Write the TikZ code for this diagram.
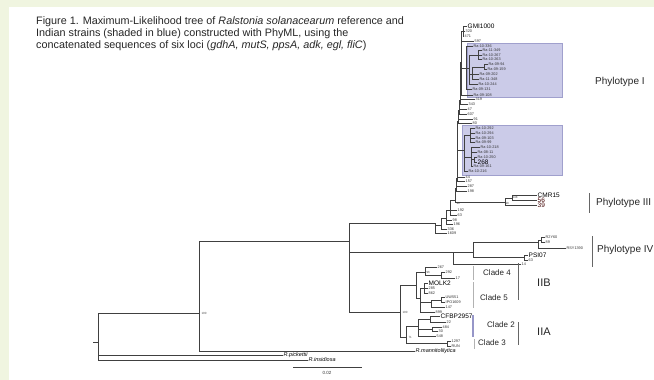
\documentclass[tikz,border=0pt]{standalone}
\usepackage{fontspec}
\setmainfont{Liberation Sans}
\definecolor{pagegreen}{RGB}{240,245,224}
\definecolor{shade}{RGB}{203,203,232}
\definecolor{shadeline}{RGB}{160,160,205}
\definecolor{cladeblue}{RGB}{150,150,200}
\begin{document}
\begin{tikzpicture}[x=1pt,y=-1pt,
  br/.style={draw=black!75,line width=0.7pt},
  tiplab/.style={font=\fontsize{3.8}{4}\selectfont,inner sep=0.5pt,anchor=west,text=black!80},
  biglab/.style={font=\fontsize{6.5}{7}\selectfont,inner sep=0.5pt,anchor=west},
  itlab/.style={font=\fontsize{5.5}{6}\selectfont\itshape,inner sep=0.5pt,anchor=west},
  bslab/.style={font=\fontsize{3}{3}\selectfont,inner sep=0.3pt,anchor=west,text=black!70},
  grplab/.style={font=\fontsize{10}{11}\selectfont,inner sep=0pt,anchor=west,text=black!85},
  cladelab/.style={font=\fontsize{8}{9}\selectfont,inner sep=0pt,anchor=west,text=black!85},
  bar/.style={draw=black!60,line width=0.8pt}]
\fill[pagegreen] (0,0) rectangle (654,380);
\fill[white] (9,7) rectangle (654,380);
\useasboundingbox (0,0) rectangle (654,380);

\node[anchor=north west,inner sep=0pt,align=left,font=\fontsize{10.8}{12.2}\selectfont,text=black!85] (caption) at (36,16)
  {Figure 1. Maximum-Likelihood tree of \textit{Ralstonia solanacearum} reference and\\
   Indian strains (shaded in blue) constructed with PhyML, using the\\
   concatenated sequences of six loci (\textit{gdhA, mutS, ppsA, adk, egl, fliC})};

\filldraw[fill=shade,draw=shadeline,line width=0.5pt] (467,43) rectangle (562,97);
\filldraw[fill=shade,draw=shadeline,line width=0.5pt] (462,125) rectangle (562,175);

\coordinate (stub) at (93,342);
\coordinate (root) at (98,342);
\coordinate (ing) at (199,313);
\coordinate (core) at (349,241);
\node[itlab] (pick) at (283,355) {R.pickettii};
\node[itlab] (insid) at (308,360) {R.insidiosa};
\node[itlab] (mann) at (415,351) {R.mannitolilytica};
\node[bslab] (bsing) at (201,313) {100};

\coordinate (ci3) at (435,223);
\coordinate (s11) at (441,225);
\coordinate (s10) at (446,218);
\coordinate (s9) at (450,210);
\coordinate (s8) at (455,200);
\coordinate (s7) at (456,188);
\coordinate (s6) at (457,178);
\coordinate (s5) at (457.5,150);
\coordinate (s4) at (458,121);
\coordinate (s3) at (459,110);
\coordinate (s2) at (460,100);
\coordinate (s1) at (461,62);
\coordinate (g1) at (463,31);
\coordinate (b1) at (466,68);
\coordinate (b1a) at (469,68);
\coordinate (b1b) at (478,55);
\coordinate (b1c) at (472,74);
\coordinate (b1d) at (484,67);
\coordinate (b2) at (464,150);
\coordinate (b2a) at (470,135);
\coordinate (b2b) at (471,157);
\coordinate (b2c) at (474,159);

\node[biglab] (gmi) at (467,26) {GMI1000};
\node[tiplab] (t320) at (465,31) {320};
\node[tiplab] (t471) at (464,36) {471};
\node[tiplab] (t597) at (474,41) {597};
\node[tiplab] (r336) at (473,46) {Ra-10-336};
\node[tiplab] (r349) at (482,50) {Ra-11-349};
\node[tiplab] (r267) at (482,55) {Ra-10-267};
\node[tiplab] (r263) at (482,59) {Ra-10-263};
\node[tiplab] (r94) at (488,64) {Ra-09-94};
\node[tiplab] (r159) at (487,69) {Ra-09-159};
\node[tiplab] (r202) at (479,74) {Ra-09-202};
\node[tiplab] (r348) at (479,79) {Ra-11-348};
\node[tiplab] (r244) at (478,84) {Ra-10-244};
\node[tiplab] (r131) at (472,89) {Ra-09-131};
\node[tiplab] (r108) at (473,95) {Ra-09-108};
\node[tiplab] (t319) at (475,99) {319};
\node[tiplab] (t343) at (468,104) {343};
\node[tiplab] (t47) at (467,109) {47};
\node[tiplab] (t607) at (467,114) {607};
\node[tiplab] (t91) at (473,119) {91};
\node[tiplab] (t80) at (472,123) {80};
\node[tiplab] (r292) at (475,128) {Ra-10-292};
\node[tiplab] (r294) at (475,133) {Ra-10-294};
\node[tiplab] (r103) at (475,138) {Ra-09-103};
\node[tiplab] (r99) at (475,142) {Ra-09-99};
\node[tiplab] (r218) at (480,147) {Ra-10-218};
\node[tiplab] (r11) at (477,152) {Ra-08-11};
\node[tiplab] (r250) at (477,157) {Ra-10-250};
\node[biglab] (t268) at (477,162) {268};
\node[tiplab] (r161) at (473,166) {Ra-09-161};
\node[tiplab] (r216) at (468,171) {Ra-10-216};
\node[tiplab] (t44) at (465,177) {44};
\node[tiplab] (t157) at (465,181) {157};
\node[tiplab] (t287) at (467,186) {287};
\node[tiplab] (t198) at (467,191) {198};
\node[tiplab] (t192) at (457,210) {192};
\node[tiplab] (t63a) at (457,215) {63};
\node[tiplab] (t98) at (452,220) {98};
\node[tiplab] (t196) at (453,224) {196};
\node[tiplab] (t336) at (447,229) {336};
\node[tiplab] (t1609) at (447,233) {1609};

\coordinate (p3) at (505,202);
\coordinate (p3a) at (512,198);
\node[biglab] (cmr) at (537,195) {CMR15};
\node[biglab,text=black!75!red] (t56) at (537,200) {56};
\node[biglab,text=black!75!red] (t39) at (537,205) {39};
\node[bslab] (bs99) at (456,203) {99};
\node[bslab] (bs548) at (512,197) {548};
\node[bslab] (bs98) at (505,203) {98};

\coordinate (p4) at (453,252);
\coordinate (m4) at (473,252);
\coordinate (n4) at (538,242);
\coordinate (n4a) at (541,240);
\coordinate (n4p) at (524,257);
\node[tiplab] (r2y) at (545,237) {R2Y60};
\node[tiplab] (t89) at (545,242) {89};
\node[tiplab] (rsy) at (566,248) {RSY1390};
\node[biglab] (psi) at (528,255) {PSI07};
\node[tiplab] (t63b) at (528,260) {63};
\node[tiplab] (t14) at (521,264) {14};

\coordinate (p2) at (400,312);
\coordinate (iib) at (416,285);
\coordinate (c4) at (425,272);
\coordinate (c4a) at (441,275);
\coordinate (c5) at (420,298);
\coordinate (c5a) at (424,288);
\coordinate (c5b) at (431,302);
\coordinate (c5c) at (441,300);
\coordinate (iia) at (406,337);
\coordinate (c2) at (418,326);
\coordinate (c2a) at (430,319);
\coordinate (c2b) at (432,329);
\coordinate (c3) at (447,343);
\node[tiplab] (t267) at (437,267) {267};
\node[tiplab] (t292) at (445,272) {292};
\node[tiplab] (t17) at (455,278) {17};
\node[biglab] (molk) at (428,283) {MOLK2};
\node[tiplab] (t285) at (428,288) {285};
\node[tiplab] (t862) at (428,293) {862};
\node[tiplab] (uw) at (445,297) {UW551};
\node[tiplab] (ipo) at (445,302) {IPO1609};
\node[tiplab] (t147) at (445,307) {147};
\node[tiplab] (t899) at (435,312) {899};
\node[biglab] (cfbp) at (440,316) {CFBP2957};
\node[tiplab] (t22) at (446,322) {22};
\node[tiplab] (t484) at (442,327) {484};
\node[tiplab] (t30) at (438,331) {30};
\node[tiplab] (t548) at (436,336) {548};
\node[tiplab] (t1297) at (451,341) {1297};
\node[tiplab] (trun) at (451,346) {RUN};
\node[bslab] (bs100) at (402,312) {100};
\node[bslab] (bs71) at (408,337) {71};
\node[bslab] (bs96) at (426,272) {96};

\draw[br] (stub) -- (root);
\draw[br] (root) |- (ing) (root) |- (pick) (root) |- (insid);
\draw[br] (ing) |- (core) (ing) |- (mann);
\draw[br] (core) |- (ci3) (core) |- (p4) (core) |- (p2);

\draw[br] (ci3) |- (s11) (ci3) |- (t1609);
\draw[br] (s11) |- (s10) (s11) |- (t336);
\draw[br] (s10) |- (s9) (s10) |- (t98) (s10) |- (t196);
\draw[br] (s9) |- (s8) (s9) |- (t192) (s9) |- (t63a);
\draw[br] (s8) |- (s7) (s8) |- (p3);
\draw[br] (s7) |- (s6) (s7) |- (t287) (s7) |- (t198);
\draw[br] (s6) |- (s5) (s6) |- (t44) (s6) |- (t157);
\draw[br] (s5) |- (s4) (s5) |- (b2);
\draw[br] (s4) |- (s3) (s4) |- (t91) (s4) |- (t80);
\draw[br] (s3) |- (s2) (s3) |- (t47) (s3) |- (t607);
\draw[br] (s2) |- (s1) (s2) |- (t319) (s2) |- (t343);
\draw[br] (s1) |- (g1) (s1) |- (t597) (s1) |- (b1) (s1) |- (r108);
\draw[br] (g1) |- (gmi) (g1) |- (t320) (g1) |- (t471);
\draw[br] (b1) |- (r336) (b1) |- (b1a) (b1) |- (r131);
\draw[br] (b1a) |- (b1b) (b1a) |- (b1c) (b1a) |- (r244);
\draw[br] (b1b) |- (r349) (b1b) |- (r267) (b1b) |- (r263);
\draw[br] (b1c) |- (b1d) (b1c) |- (r202) (b1c) |- (r348);
\draw[br] (b1d) |- (r94) (b1d) |- (r159);
\draw[br] (b2) |- (b2a) (b2) |- (b2b) (b2) |- (r216);
\draw[br] (b2a) |- (r292) (b2a) |- (r294) (b2a) |- (r103) (b2a) |- (r99);
\draw[br] (b2b) |- (r218) (b2b) |- (r11) (b2b) |- (b2c) (b2b) |- (r161);
\draw[br] (b2c) |- (r250) (b2c) |- (t268);

\draw[br] (p3) |- (p3a) (p3) |- (t39);
\draw[br] (p3a) |- (cmr) (p3a) |- (t56);

\draw[br] (p4) |- (m4) (p4) |- (t14);
\draw[br] (m4) |- (n4) (m4) |- (n4p);
\draw[br] (n4) |- (n4a) (n4) |- (rsy);
\draw[br] (n4a) |- (r2y) (n4a) |- (t89);
\draw[br] (n4p) |- (psi) (n4p) |- (t63b);

\draw[br] (p2) |- (iib) (p2) |- (iia);
\draw[br] (iib) |- (c4) (iib) |- (c5);
\draw[br] (c4) |- (t267) (c4) |- (c4a);
\draw[br] (c4a) |- (t292) (c4a) |- (t17);
\draw[br] (c5) |- (c5a) (c5) |- (c5b) (c5) |- (t899);
\draw[br] (c5a) |- (molk) (c5a) |- (t285) (c5a) |- (t862);
\draw[br] (c5b) |- (c5c) (c5b) |- (t147);
\draw[br] (c5c) |- (uw) (c5c) |- (ipo);
\draw[br] (iia) |- (c2) (iia) |- (c3);
\draw[br] (c2) |- (c2a) (c2) |- (c2b) (c2) |- (t548);
\draw[br] (c2a) |- (cfbp) (c2a) |- (t22);
\draw[br] (c2b) |- (t484) (c2b) |- (t30);
\draw[br] (c3) |- (t1297) (c3) |- (trun);

\draw[bar,draw=black!30] (473,266) -- (473,280);
\draw[bar,draw=black!30] (473,282) -- (473,308);
\draw[bar,draw=cladeblue,line width=1.2pt] (473,315) -- (473,337);
\draw[bar,draw=black!30] (474,339) -- (474,349);
\draw[bar] (518,263) -- (518,300);
\draw[bar] (518,322) -- (518,345);
\draw[bar] (589,193) -- (589,213);
\draw[bar] (592,236) -- (592,267);
\node[cladelab] (cl4) at (483,273) {Clade 4};
\node[cladelab] (cl5) at (480,298) {Clade 5};
\node[cladelab] (cl2) at (487,325) {Clade 2};
\node[cladelab] (cl3) at (478,343) {Clade 3};
\node[grplab,font=\fontsize{11}{12}\selectfont] (lIIB) at (537,283) {IIB};
\node[grplab,font=\fontsize{11}{12}\selectfont] (lIIA) at (537,332) {IIA};
\node[grplab] (ph1) at (595,82) {Phylotype I};
\node[grplab] (ph3) at (596,203) {Phylotype III};
\node[grplab] (ph4) at (597,250) {Phylotype IV};

\coordinate (sbl) at (293,367);
\coordinate (sbr) at (362,367);
\draw[br] (sbl) -- (sbr);
\node[font=\fontsize{4.5}{5}\selectfont,text=black!80] (sblab) at (327,373) {0.02};
\end{tikzpicture}
\end{document}
